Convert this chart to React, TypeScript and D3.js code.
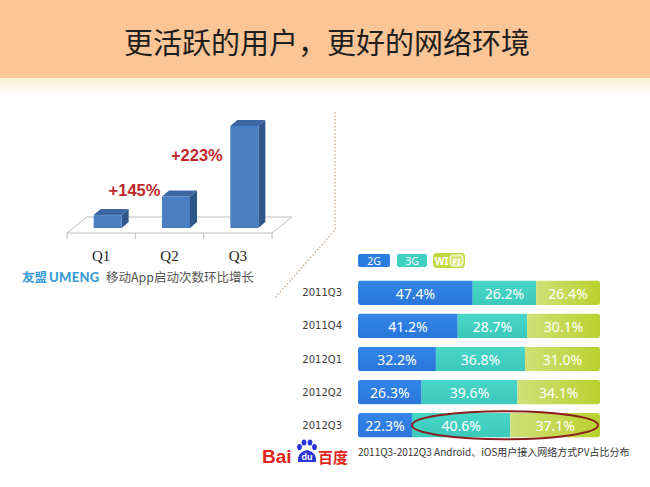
import React from "react";
import * as d3 from "d3";

// ---- Left chart data (Umeng) ----
const quarters = ["Q1", "Q2", "Q3"];
const launchIndex = [100, 245, 792]; // relative app launches (Q1 = 100)
const growthLabels = ["", "+145%", "+223%"];

// ---- Right chart data (Baidu) ----
const periods = ["2011Q3", "2011Q4", "2012Q1", "2012Q2", "2012Q3"];
const share2G = [47.4, 41.2, 32.2, 26.3, 22.3];
const share3G = [26.2, 28.7, 36.8, 39.6, 40.6];
const shareWiFi = [26.4, 30.1, 31.0, 34.1, 37.1];
const seriesNames = ["2G", "3G", "WiFi"];

const W = 650;
const H = 487;

export default function App() {
  // left 3D column chart
  const xL = d3.scaleBand<string>().domain(quarters).range([67, 272]).paddingInner(0);
  const floorY = 233;
  const baseY = 228;
  const yL = d3.scaleLinear().domain([0, 792]).range([baseY, 126]);
  const barW = 28;
  const dX = 7;
  const dY = -6;
  const shift = 6.5;

  // right stacked bar chart
  const yR = d3.scaleBand<string>().domain(periods).range([280.5, 437.5]).paddingInner(0.26).paddingOuter(0);
  const xR = d3.scaleLinear().domain([0, 100]).range([358, 600]);
  const rows = periods.map((p, i) => ({ p, vals: [share2G[i], share3G[i], shareWiFi[i]] }));
  const stack = d3.stack<any>().keys([0, 1, 2] as any).value((d: any, k: any) => d.vals[k]);
  const stacked = stack(rows as any);
  const fills = ["url(#g2)", "url(#g3)", "url(#gw)"];

  const sans = "'Noto Sans', 'Liberation Sans', sans-serif";
  const cjk = "'Noto Sans CJK SC', 'Noto Sans', sans-serif";

  const lastBand = yR(periods[4])!;
  const lastMid = lastBand + yR.bandwidth() / 2;

  return (
    <svg width={W} height={H} style={{ position: "absolute", left: 0, top: 0 }} viewBox={`0 0 ${W} ${H}`}>
      <defs>
        <linearGradient id="fade" x1="0" y1="0" x2="0" y2="1">
          <stop offset="0" stopColor="#fbf1dc" />
          <stop offset="1" stopColor="#ffffff" />
        </linearGradient>
        <linearGradient id="g2" x1="0" y1="0" x2="0" y2="1">
          <stop offset="0" stopColor="#3386e8" />
          <stop offset="1" stopColor="#2a76db" />
        </linearGradient>
        <linearGradient id="g3" x1="0" y1="0" x2="0" y2="1">
          <stop offset="0" stopColor="#48d6c8" />
          <stop offset="1" stopColor="#3bc9bb" />
        </linearGradient>
        <linearGradient id="gw" x1="0" y1="0" x2="1" y2="0">
          <stop offset="0" stopColor="#cfe077" />
          <stop offset="1" stopColor="#b9d12f" />
        </linearGradient>
        {periods.map((p, i) => (
          <clipPath id={`row${i}`} key={p}>
            <rect x={xR(0)} y={yR(p)} width={xR(100) - xR(0)} height={yR.bandwidth()} rx={3} />
          </clipPath>
        ))}
      </defs>

      <rect x={0} y={0} width={W} height={H} fill="#ffffff" />
      {/* header */}
      <rect x={0} y={0} width={W} height={78} fill="#fcc596" />
      <rect x={0} y={78} width={W} height={20} fill="url(#fade)" />
      <text x={327} y={41} textAnchor="middle" dominantBaseline="central" fontFamily={cjk} fontSize={29} fill="#1e1e1e">
        更活跃的用户，更好的网络环境
      </text>

      {/* divider dotted line */}
      <polyline points="335,112 335,230 275,298" fill="none" stroke="#c9a98a" strokeWidth={1.3} strokeDasharray="1.5 2" />

      {/* ---- Left 3D column chart ---- */}
      <polygon
        points={`67,${floorY} 272,${floorY} 292,${floorY - 16} 87,${floorY - 16}`}
        fill="#ffffff"
        stroke="#bdbdbd"
        strokeWidth={1}
      />
      {[67, ...quarters.map((q) => xL(q)! + xL.bandwidth())].map((x, i) => (
        <line key={i} x1={x} x2={x} y1={floorY} y2={floorY + 6} stroke="#bdbdbd" />
      ))}
      {quarters.map((q, i) => {
        const cx = xL(q)! + xL.bandwidth() / 2 + shift;
        const x0 = cx - barW / 2;
        const x1 = cx + barW / 2;
        const top = yL(launchIndex[i]);
        return (
          <g key={q}>
            <polygon points={`${x1},${top} ${x1 + dX},${top + dY} ${x1 + dX},${baseY + dY} ${x1},${baseY}`} fill="#2f5689" />
            <polygon points={`${x0},${top} ${x0 + dX},${top + dY} ${x1 + dX},${top + dY} ${x1},${top}`} fill="#3d67a3" />
            <rect x={x0} y={top} width={barW} height={baseY - top} fill="#4a7ec2" />
          </g>
        );
      })}
      {quarters.map((q) => (
        <text key={q} x={xL(q)! + xL.bandwidth() / 2} y={261} textAnchor="middle" fontFamily="'Liberation Serif', serif" fontSize={15} fill="#222">
          {q}
        </text>
      ))}
      {growthLabels.map((g, i) =>
        g ? (
          <text
            key={g}
            x={xL(quarters[i])! + xL.bandwidth() / 2 - (i === 1 ? 35 : 41)}
            y={i === 1 ? 196 : 161}
            textAnchor="middle"
            fontFamily="'Liberation Sans', sans-serif"
            fontWeight="bold"
            fontSize={16.5}
            fill="#c0262c"
          >
            {g}
          </text>
        ) : null
      )}
      {/* Umeng logo */}
      <text x={22} y={282} fontFamily={cjk} fontWeight="bold" fontSize={12.5} fill="#3b9bd6">
        友盟
      </text>
      <text x={49} y={282} fontFamily="'Lato', sans-serif" fontWeight="900" fontSize={13} fill="#3b9bd6" letterSpacing={0.3}>
        UMENG
      </text>
      <text x={106} y={282} fontFamily={cjk} fontSize={12.5} fill="#555">
        移动App启动次数环比增长
      </text>

      {/* ---- Right stacked bars ---- */}
      {/* legend */}
      <rect x={358} y={254} width={32} height={13} rx={2} fill="#2b7de0" />
      <text x={374} y={261} textAnchor="middle" dominantBaseline="central" fontFamily={sans} fontSize={10.5} fill="#fff">
        {seriesNames[0]}
      </text>
      <rect x={397} y={254} width={30} height={13} rx={2} fill="#40d0c2" />
      <text x={412} y={261} textAnchor="middle" dominantBaseline="central" fontFamily={sans} fontSize={10.5} fill="#fff">
        {seriesNames[1]}
      </text>
      <rect x={433} y={253} width={32} height={15} rx={4} fill="#c3d740" />
      <text x={441.5} y={261} textAnchor="middle" dominantBaseline="central" fontFamily={sans} fontWeight="bold" fontSize={10} fill="#fff">
        WI
      </text>
      <rect x={450} y={255} width={13} height={11} rx={3} fill="#d9e67e" stroke="#fff" strokeWidth={1} />
      <text x={456.5} y={261} textAnchor="middle" dominantBaseline="central" fontFamily={sans} fontWeight="bold" fontSize={9} fill="#fff">
        FI
      </text>

      {periods.map((p) => (
        <text
          key={p}
          x={342}
          y={yR(p)! + yR.bandwidth() / 2}
          textAnchor="end"
          dominantBaseline="central"
          fontFamily="'DejaVu Sans', sans-serif"
          fontSize={10}
          fill="#3a3a3a"
        >
          {p}
        </text>
      ))}
      {periods.map((p, i) => (
        <g key={p} clipPath={`url(#row${i})`}>
          {stacked.map((s, k) => (
            <rect
              key={k}
              x={xR(s[i][0])}
              y={yR(p)}
              width={xR(s[i][1]) - xR(s[i][0])}
              height={yR.bandwidth()}
              fill={fills[k]}
            />
          ))}
        </g>
      ))}
      {periods.map((p, i) =>
        stacked.map((s, k) => (
          <text
            key={`${p}-${k}`}
            x={(xR(s[i][0]) + xR(s[i][1])) / 2}
            y={yR(p)! + yR.bandwidth() / 2 + 0.5}
            textAnchor="middle"
            dominantBaseline="central"
            fontFamily={sans}
            fontSize={14}
            fill="#ffffff"
          >
            {rows[i].vals[k].toFixed(1)}%
          </text>
        ))
      )}
      {/* highlight ellipse around 2012Q3 3G + WiFi */}
      <ellipse
        cx={(xR(share2G[4]) + xR(100)) / 2 - 1}
        cy={lastMid}
        rx={(xR(100) - xR(share2G[4])) / 2 - 1}
        ry={14}
        fill="none"
        stroke="#8b1d1d"
        strokeWidth={2}
      />

      {/* Baidu logo */}
      <text x={262} y={463} fontFamily="'Liberation Sans', sans-serif" fontWeight="bold" fontSize={19} fill="#e1251b">
        Bai
      </text>
      <g fill="#2b35d6">
        <ellipse cx={299.5} cy={447} rx={2.4} ry={3.1} />
        <ellipse cx={304} cy={442.5} rx={2.4} ry={3.1} />
        <ellipse cx={310} cy={442.5} rx={2.4} ry={3.1} />
        <ellipse cx={314.5} cy={447} rx={2.4} ry={3.1} />
        <path d="M298,462 Q297,452 307,450 Q317,452 316,462 Z" />
      </g>
      <text x={307} y={460} textAnchor="middle" fontFamily="'Liberation Sans', sans-serif" fontWeight="bold" fontSize={9} fill="#fff">
        du
      </text>
      <text x={318} y={463} fontFamily={cjk} fontWeight="bold" fontSize={15} fill="#e1251b">
        百度
      </text>
      <text x={358} y={456} fontFamily={cjk} fontSize={10} fill="#333">
        2011Q3-2012Q3 Android、iOS用户接入网络方式PV占比分布
      </text>
    </svg>
  );
}
